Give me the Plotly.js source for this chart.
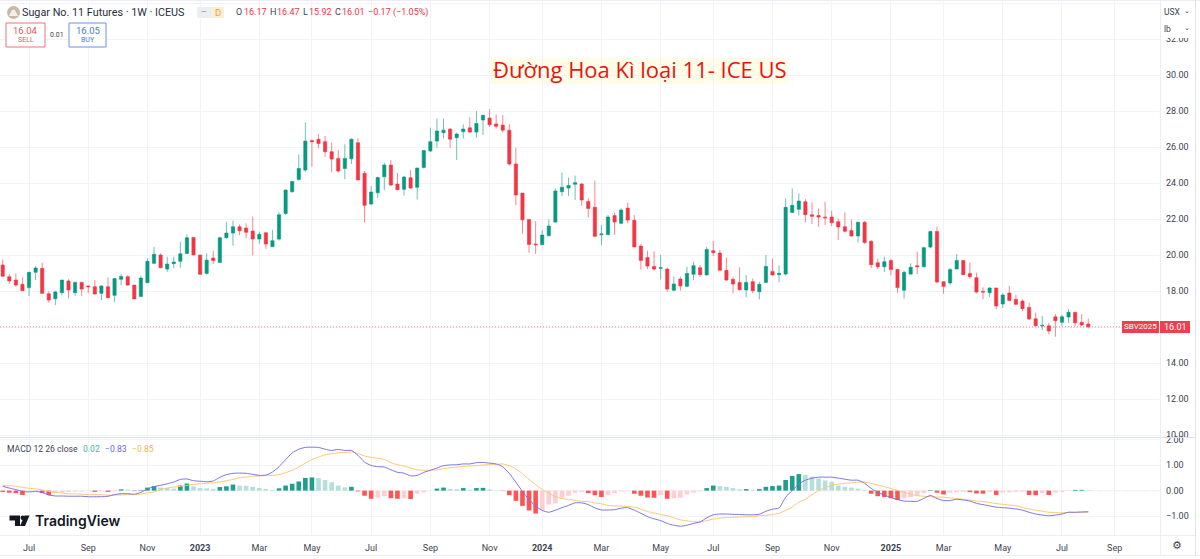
<!DOCTYPE html>
<html><head><meta charset="utf-8">
<script src="https://cdn.plot.ly/plotly-3.0.1.min.js"></script>
<style>html,body{margin:0;padding:0;background:#fff;overflow:hidden}#c{width:1200px;height:559px}</style>
</head><body><div id="c"></div>
<script>
const firstWeek = '2022-06-06';
const open = [19.45,18.80,18.61,18.37,18.19,19.04,19.26,17.85,17.57,17.91,
18.56,17.91,18.48,18.28,18.24,17.87,18.24,17.76,18.65,18.80,
18.33,17.69,18.46,19.54,20.00,19.22,19.52,19.65,20.09,20.98,
20.00,18.98,19.83,19.59,20.96,21.22,21.57,21.50,21.33,20.89,
21.24,20.46,20.89,22.31,23.52,24.20,24.72,26.37,26.43,26.30,
25.74,25.37,24.81,25.35,26.24,24.54,22.83,23.46,24.35,25.00,
23.94,23.65,24.30,23.76,24.87,25.78,26.33,26.80,27.00,26.52,
26.85,27.07,26.83,27.50,27.61,27.28,27.22,26.94,25.06,23.44,
21.98,20.61,20.57,21.07,21.83,23.52,23.72,23.93,23.95,22.98,
22.65,21.13,21.13,22.19,21.76,22.61,21.93,20.50,19.87,19.37,
19.26,19.22,18.04,18.67,18.26,18.93,19.30,18.89,20.24,20.11,
19.15,18.65,18.48,18.06,18.52,17.96,18.48,19.09,18.91,18.94,
22.37,22.54,22.96,22.24,22.20,22.11,22.11,21.85,21.57,21.37,
21.06,21.82,20.76,19.57,19.35,19.69,19.20,18.04,18.94,19.41,
19.35,20.44,21.31,18.52,18.45,19.22,19.70,18.98,18.74,17.98,
17.91,18.17,17.28,17.89,17.54,17.44,17.09,16.46,16.06,16.07,
16.57,16.26,16.56,16.82,16.26,16.17];
const high = [19.76,18.95,18.98,18.76,19.07,19.39,19.57,17.98,18.02,18.61,
18.65,18.52,18.52,18.32,18.61,18.33,18.76,18.70,18.93,18.87,
18.33,18.83,19.82,20.46,20.09,19.91,19.91,20.74,21.15,20.98,
20.00,20.09,20.24,21.02,21.85,21.91,21.70,21.76,22.13,21.30,
21.24,21.39,22.37,23.65,24.09,25.59,27.37,26.41,26.72,26.61,
26.24,25.83,26.15,26.48,26.48,24.68,23.83,24.35,25.13,25.28,
24.57,24.39,24.72,24.87,25.83,27.07,27.59,27.59,27.04,26.80,
27.26,27.65,28.00,27.78,28.11,27.81,27.78,27.28,25.96,23.44,
21.98,21.89,21.39,21.98,23.70,24.59,24.30,24.41,23.98,23.15,
24.13,21.67,22.22,22.35,22.59,22.91,22.22,20.61,20.24,20.22,
20.00,19.30,18.80,18.80,19.35,19.63,19.44,20.46,20.78,20.28,
19.87,18.76,19.31,18.89,18.70,18.52,20.00,19.78,19.43,23.15,
23.70,23.43,23.11,22.93,22.59,22.96,22.46,22.04,22.37,21.98,
21.85,21.89,20.83,19.80,19.91,19.80,19.24,19.13,19.54,20.19,
20.46,21.35,21.57,18.52,19.28,20.06,19.70,19.59,19.02,18.20,
18.20,18.17,17.87,18.28,17.78,17.54,17.35,16.80,16.61,16.24,
16.72,16.67,17.00,16.83,16.72,16.47];
const low = [18.82,18.39,18.24,18.02,17.72,18.61,17.87,17.35,17.21,17.76,
17.59,17.72,17.74,17.87,17.83,17.50,17.63,17.39,18.33,18.28,
17.56,17.69,18.46,19.50,19.26,19.07,19.26,19.30,20.06,20.00,
18.89,18.91,19.50,19.57,20.91,20.52,21.11,20.93,19.98,20.61,
20.35,20.46,20.80,22.22,23.46,24.13,24.63,24.91,25.93,25.46,
24.59,24.57,24.22,25.06,24.17,21.81,22.80,23.18,23.61,23.83,
23.61,23.30,23.68,23.09,24.81,25.72,25.96,26.48,25.96,25.28,
26.48,26.80,26.52,26.67,27.13,27.02,26.81,24.96,22.78,21.17,
20.13,20.06,20.57,21.07,21.81,23.28,23.28,23.06,22.74,22.09,
20.98,20.56,21.13,21.13,21.72,21.76,20.43,19.20,19.22,19.13,
18.65,17.96,18.00,18.02,18.22,18.61,18.80,18.87,19.95,19.15,
18.57,17.87,18.02,17.65,17.87,17.54,18.48,18.85,18.48,18.87,
22.32,22.19,21.80,21.72,21.57,21.67,21.61,20.83,21.26,21.02,
20.70,20.61,19.28,19.22,19.06,18.87,17.91,17.57,18.91,18.94,
19.30,20.39,18.43,17.85,18.35,19.22,18.91,18.67,17.87,17.54,
17.67,16.98,17.06,17.43,17.22,16.87,16.39,16.07,15.83,15.59,
15.46,16.07,16.24,16.06,16.07,15.92];
const close = [18.82,18.56,18.33,18.02,19.04,19.28,17.87,17.50,17.95,18.61,
18.06,18.48,18.11,18.24,17.83,18.28,17.63,18.69,18.81,18.33,
17.56,18.72,19.65,20.04,19.30,19.50,19.61,20.07,20.96,20.00,
18.93,19.72,19.69,20.96,21.22,21.57,21.35,21.26,20.89,21.15,
20.61,20.80,22.24,23.61,24.09,24.81,26.33,26.30,26.20,25.74,
25.33,24.67,25.37,26.43,24.17,22.76,23.50,24.31,25.00,23.89,
23.63,24.33,23.72,24.83,25.81,26.30,26.89,26.94,26.44,26.72,
27.00,26.83,27.31,27.76,27.24,27.15,26.94,25.06,23.33,21.96,
20.59,20.57,21.11,21.61,23.56,23.76,23.87,24.02,23.06,22.59,
21.04,21.17,22.11,21.83,22.50,21.94,20.45,19.70,19.39,19.22,
19.30,18.11,18.39,18.28,18.98,19.41,18.91,20.31,20.13,19.15,
18.61,18.39,18.07,18.48,18.02,18.37,19.37,18.89,18.98,22.65,
22.76,23.00,22.24,22.15,22.11,22.07,21.80,21.56,21.32,21.06,
21.82,20.70,19.46,19.35,19.63,19.19,18.19,19.04,19.32,19.35,
20.41,21.31,18.50,18.26,19.19,19.70,18.91,18.80,17.94,17.94,
18.17,17.17,17.78,17.48,17.26,17.02,16.44,16.07,16.09,15.78,
16.35,16.57,16.82,16.24,16.11,16.01];
const macd = [.17,.10,.04,-.03,-.05,-.03,-.07,-.17,-.21,-.21,
-.22,-.22,-.22,-.24,-.24,-.24,-.22,-.16,-.12,-.12,
-.14,-.07,.07,.16,.21,.27,.34,.44,.46,.39,
.37,.35,.38,.52,.63,.68,.69,.68,.64,.60,
.61,.73,.94,1.22,1.48,1.63,1.70,1.71,1.70,1.63,
1.58,1.62,1.58,1.58,1.39,1.12,.99,.94,.93,.82,
.72,.69,.58,.60,.72,.80,.89,.98,1.01,1.02,
1.05,1.05,1.10,1.11,1.08,1.05,.94,.68,.33,-.03,
-.35,-.61,-.78,-.85,-.77,-.67,-.58,-.48,-.48,-.55,
-.68,-.76,-.76,-.75,-.69,-.67,-.77,-.89,-1.02,-1.11,
-1.18,-1.29,-1.36,-1.40,-1.36,-1.29,-1.23,-1.07,-.95,-.92,
-.92,-.93,-.94,-.95,-.95,-.93,-.81,-.73,-.68,-.26,
.01,.26,.41,.49,.53,.53,.53,.49,.45,.41,
.41,.29,.09,-.07,-.18,-.27,-.35,-.41,-.42,-.42,
-.31,-.19,-.31,-.39,-.39,-.34,-.37,-.41,-.50,-.55,
-.60,-.65,-.67,-.69,-.72,-.77,-.85,-.92,-.96,-.99,
-.96,-.92,-.85,-.85,-.84,-.83];
const signal = [.20,.19,.17,.13,.09,.07,.03,-.03,-.07,-.09,
-.12,-.13,-.14,-.16,-.16,-.16,-.18,-.17,-.17,-.16,
-.16,-.14,-.09,-.05,.04,.10,.14,.17,.21,.24,
.27,.29,.31,.34,.39,.44,.50,.54,.56,.58,
.60,.60,.63,.71,.80,.93,1.08,1.22,1.32,1.41,
1.45,1.49,1.50,1.52,1.46,1.36,1.31,1.27,1.23,1.10,
1.02,.97,.89,.82,.80,.80,.82,.86,.90,.93,
.95,.97,.98,1.01,1.02,1.03,1.05,.98,.85,.67,
.44,.24,.04,-.10,-.24,-.31,-.35,-.38,-.42,-.43,
-.48,-.52,-.58,-.60,-.61,-.63,-.65,-.73,-.82,-.88,
-.94,-.99,-1.07,-1.15,-1.19,-1.22,-1.23,-1.18,-1.12,-1.08,
-1.06,-1.05,-1.04,-1.02,-1.02,-.99,-.97,-.94,-.89,-.78,
-.64,-.46,-.34,-.16,0,.12,.20,.26,.29,.31,
.33,.34,.28,.22,.16,.08,.01,-.07,-.14,-.20,
-.22,-.24,-.25,-.26,-.29,-.31,-.34,-.37,-.41,-.43,
-.47,-.51,-.54,-.57,-.59,-.67,-.72,-.77,-.81,-.85,
-.86,-.87,-.86,-.86,-.85,-.85];
const histogram = [-.05,-.08,-.10,-.17,-.03,-.02,-.10,-.18,-.10,-.08,
-.06,-.04,-.03,-.02,-.05,-.02,-.05,-.03,.05,.04,
-.02,.02,.12,.18,.12,.10,.08,.20,.28,.17,
.10,.09,.07,.14,.17,.24,.20,.19,.15,.10,
.07,.03,.09,.20,.27,.36,.50,.52,.50,.42,
.33,.20,.13,.15,-.03,-.20,-.32,-.28,-.22,-.30,
-.32,-.30,-.33,-.12,-.07,-.01,.08,.12,.07,.06,
.10,.03,.10,.11,.05,.01,-.01,-.18,-.40,-.60,
-.78,-.90,-.78,-.55,-.50,-.28,-.20,-.08,-.05,-.10,
-.18,-.25,-.18,-.10,-.03,-.02,-.12,-.20,-.27,-.28,
-.18,-.32,-.30,-.28,-.15,-.08,-.03,.10,.20,.18,
.15,.10,.05,.06,.03,.06,.15,.18,.20,.42,
.58,.65,.62,.55,.48,.40,.35,.20,.15,.12,
.08,.03,-.12,-.22,-.25,-.30,-.37,-.30,-.25,-.20,
-.10,.02,-.08,-.15,-.08,-.06,-.05,-.06,-.11,-.12,
-.05,-.17,-.08,-.07,-.05,-.04,-.17,-.18,-.10,-.17,
-.08,-.05,-.01,.03,.03,.02];
const axisTickDates = ['2022-07-04','2022-09-05','2022-11-07','2023-01-02','2023-03-06','2023-05-01','2023-07-03','2023-09-04','2023-11-06','2024-01-01','2024-03-04','2024-05-06','2024-07-01','2024-09-02','2024-11-04','2025-01-06','2025-03-03','2025-05-05','2025-07-07','2025-09-01'];
const axisTickLabels = ['Jul','Sep','Nov','<b>2023</b>','Mar','May','Jul','Sep','Nov','<b>2024</b>','Mar','May','Jul','Sep','Nov','<b>2025</b>','Mar','May','Jul','Sep'];
const priceTicks = [10,12,14,16,18,20,22,24,26,28,30,32,34];
const priceTickLabels = priceTicks.map(v => v.toFixed(2));
const macdTicks = [-1,0,1,2];
const macdTickLabels = ['−1.00','0.00','1.00','2.00'];
const lastPrice = 16.01;

const dates = close.map((_, i) => new Date(Date.parse(firstWeek + 'T00:00:00Z') + i * 7 * 864e5).toISOString().slice(0, 10));
const histColors = histogram.map((v, i) => {
  const p = i ? histogram[i - 1] : 0;
  return v >= 0 ? (v >= p ? '#1f9e8c' : '#b4dfdb') : (v < p ? '#ff5252' : '#ffcdd2');
});

const W = 1200, H = 559, PLOTW = 1160, FONT = 'Roboto, "Liberation Sans", sans-serif';
const px = x => x / PLOTW, py = y => 1 - y / H;
const TXT = '#3d4350', GRID = '#f1f3f7', UP = '#089981', DOWN = '#f23645';

const note = (x, y, text, o = {}) => Object.assign({
  xref: 'paper', yref: 'paper', x: px(x), y: py(y), text, showarrow: false, xanchor: 'left', yanchor: 'middle',
  font: {family: FONT, size: 10, color: TXT}, borderpad: 0, borderwidth: 0
}, o);
const rect = (x0, y0, x1, y1, o = {}) => Object.assign({
  type: 'rect', xref: 'paper', yref: 'paper', x0: px(x0), x1: px(x1), y0: py(y0), y1: py(y1), layer: 'above', line: {width: 0}
}, o);
const poly = (pts, fill) => ({
  type: 'path', xref: 'paper', yref: 'paper', layer: 'above', fillcolor: fill, line: {width: 0},
  path: 'M' + pts.map(p => px(p[0]) + ',' + py(p[1])).join('L') + 'Z'
});

const traces = [
  {type: 'candlestick', x: dates, open, high, low, close, xaxis: 'x', yaxis: 'y', hoverinfo: 'skip',
   increasing: {line: {color: 'rgba(8,153,129,0.6)', width: 1}, fillcolor: UP},
   decreasing: {line: {color: 'rgba(242,54,69,0.6)', width: 1}, fillcolor: DOWN}},
  {type: 'bar', x: dates, y: histogram, xaxis: 'x', yaxis: 'y2', marker: {color: histColors, line: {width: 0}}, hoverinfo: 'skip'},
  {type: 'scatter', mode: 'lines', x: dates, y: signal, xaxis: 'x', yaxis: 'y2', line: {color: '#fbc873', width: 1, shape: 'spline', smoothing: .6}, hoverinfo: 'skip'},
  {type: 'scatter', mode: 'lines', x: dates, y: macd, xaxis: 'x', yaxis: 'y2', line: {color: '#7a72e6', width: 1, shape: 'spline', smoothing: .6}, hoverinfo: 'skip'}
];

const layout = {
  width: W, height: H, margin: {l: 0, r: 40, t: 0, b: 0}, paper_bgcolor: '#fff', plot_bgcolor: '#fff',
  showlegend: false, bargap: .3, font: {family: FONT, size: 10, color: TXT},
  xaxis: {type: 'date', anchor: 'y2', domain: [0, 1], range: ['2022-06-03 03:00', '2025-10-19 07:00'],
    rangeslider: {visible: false}, tickmode: 'array', tickvals: axisTickDates, ticktext: axisTickLabels,
    showgrid: true, gridcolor: GRID, gridwidth: 1, zeroline: false, showline: false, ticks: '', ticklabelstandoff: 6,
    tickfont: {size: 9, color: TXT, family: FONT}},
  yaxis: {domain: [py(437), 1], range: [9.89, 34.17], side: 'right', tickmode: 'array', tickvals: priceTicks, ticktext: priceTickLabels,
    showgrid: true, gridcolor: GRID, zeroline: false, showline: false, ticks: '', ticklabelstandoff: 5, tickfont: {size: 9, color: TXT, family: FONT}},
  yaxis2: {domain: [py(535), py(438)], range: [-1.745, 2.07], side: 'right', tickmode: 'array', tickvals: macdTicks, ticktext: macdTickLabels,
    showgrid: true, gridcolor: GRID, zeroline: false, showline: false, ticks: '', ticklabelstandoff: 5, tickfont: {size: 9, color: TXT, family: FONT}},
  shapes: [
    {type: 'line', xref: 'paper', yref: 'y', x0: 0, x1: 1, y0: lastPrice, y1: lastPrice, layer: 'above', line: {color: 'rgba(242,54,69,0.65)', width: 1, dash: '1px,2px'}},
    {type: 'line', xref: 'paper', yref: 'y2', x0: 0, x1: 1, y0: 0, y1: 0, layer: 'below', line: {color: '#f7c6cb', width: 1, dash: '4px,5px'}},
    rect(0, 437, 1195, 438, {fillcolor: '#dfe2ea'}),
    rect(0, 535, 1195, 536, {fillcolor: '#eceef3'}),
    rect(0, 555, 1200, 556, {fillcolor: '#eceef3'}),
    rect(0, 0, 1200, 1, {fillcolor: '#eceef3'}),
    rect(1160, 0, 1161, 555, {fillcolor: '#eceef3'}),
    rect(1195, 0, 1196, 555, {fillcolor: '#dfe2ea'}),
    rect(1163, 3, 1192, 38, {fillcolor: '#fff'}),
    rect(490, 58, 789, 84, {fillcolor: '#fffde7', layer: 'below'}),
    {type: 'circle', xref: 'paper', yref: 'paper', layer: 'above', x0: px(7), x1: px(20), y0: py(19), y1: py(6), fillcolor: '#c8b8a4', line: {width: 0}},
    poly([[9, 16], [12, 10], [14.5, 9.5], [18, 16]], '#f4efe8'),
    rect(197, 7, 212, 18, {fillcolor: '#eceef1'}),
    rect(212, 7, 224, 18, {fillcolor: '#fdeed6'}),
    rect(6, 23, 45, 47, {fillcolor: '#fff', line: {color: '#f0737c', width: 1}}),
    rect(69, 23, 106, 47, {fillcolor: '#fff', line: {color: '#6f8fe8', width: 1}}),
    rect(1122, 321, 1159, 333, {fillcolor: '#ee3e50'}),
    rect(1160, 321, 1190, 333, {fillcolor: '#ee3e50'}),
    poly([[9.5, 515.5], [20, 515.5], [20, 526], [15, 526], [15, 520.5], [9.5, 520.5]], '#131722'),
    {type: 'circle', xref: 'paper', yref: 'paper', layer: 'above', x0: px(20.5), x1: px(25), y0: py(520), y1: py(515.5), fillcolor: '#131722', line: {width: 0}},
    poly([[24.5, 515.5], [29.5, 515.5], [25, 526], [20, 526]], '#131722')
  ],
  annotations: [
    note(22, 12.5, 'Sugar No. 11 Futures · 1W · ICEUS', {font: {family: FONT, size: 10.8, color: '#2a2e39'}}),
    note(201, 12.5, '—', {font: {family: FONT, size: 7, color: '#787b86'}}),
    note(214.5, 12.5, 'D', {font: {family: FONT, size: 9.5, color: '#f0a13a'}}),
    note(236, 12.5, 'O', {font: {family: FONT, size: 9, color: '#3d4350'}}),
    note(244, 12.5, '16.17', {font: {family: FONT, size: 9, color: DOWN}}),
    note(270, 12.5, 'H', {font: {family: FONT, size: 9, color: '#3d4350'}}),
    note(277, 12.5, '16.47', {font: {family: FONT, size: 9, color: DOWN}}),
    note(303, 12.5, 'L', {font: {family: FONT, size: 9, color: '#3d4350'}}),
    note(309, 12.5, '15.92', {font: {family: FONT, size: 9, color: DOWN}}),
    note(335, 12.5, 'C', {font: {family: FONT, size: 9, color: '#3d4350'}}),
    note(342, 12.5, '16.01', {font: {family: FONT, size: 9, color: DOWN}}),
    note(368, 12.5, '−0.17 (−1.05%)', {font: {family: FONT, size: 9, color: DOWN}}),
    note(25.5, 30, '16.04', {xanchor: 'center', font: {family: FONT, size: 9.5, color: '#f0505f'}}),
    note(25.5, 40, 'SELL', {xanchor: 'center', font: {family: FONT, size: 7, color: '#f0505f'}}),
    note(56.5, 34.5, '0.01', {xanchor: 'center', font: {family: FONT, size: 7, color: '#3d4350'}}),
    note(87.5, 30, '16.05', {xanchor: 'center', font: {family: FONT, size: 9.5, color: '#4b78e6'}}),
    note(87.5, 40, 'BUY', {xanchor: 'center', font: {family: FONT, size: 7, color: '#4b78e6'}}),
    note(639.5, 69.5, 'Đường Hoa Kì loại 11- ICE US', {xanchor: 'center', font: {family: '"Open Sans", sans-serif', size: 22, color: '#e8140f'}}),
    note(1164, 12, 'USX', {font: {family: FONT, size: 8.5, color: '#3d4350'}}),
    note(1164, 29, 'lb', {font: {family: FONT, size: 8.5, color: '#3d4350'}}),
    note(1187, 11, '⌄', {xanchor: 'center', font: {family: '"DejaVu Sans"', size: 7, color: '#3d4350'}}),
    note(1187, 28, '⌄', {xanchor: 'center', font: {family: '"DejaVu Sans"', size: 7, color: '#3d4350'}}),
    note(1140.5, 327, 'SBV2025', {xanchor: 'center', font: {family: FONT, size: 8, color: '#fff'}}),
    note(1175, 327, '16.01', {xanchor: 'center', font: {family: FONT, size: 9, color: '#fff'}}),
    note(7, 449, 'MACD 12 26 close', {font: {family: FONT, size: 8.6, color: '#3d4350'}}),
    note(83, 449, '0.02', {font: {family: FONT, size: 8.6, color: '#3fb8a5'}}),
    note(105, 449, '−0.83', {font: {family: FONT, size: 8.6, color: '#6f66e3'}}),
    note(132, 449, '−0.85', {font: {family: FONT, size: 8.6, color: '#f5b544'}}),
    note(35, 520.5, 'TradingView', {font: {family: 'Inter, Lato, sans-serif', size: 14, color: '#131722', weight: 600}}),
    note(1177, 545, '⚙', {xanchor: 'center', font: {family: '"DejaVu Sans"', size: 11, color: '#3d4350'}})
  ]
};
Plotly.newPlot('c', traces, layout, {displayModeBar: false, staticPlot: true});
</script></body></html>
